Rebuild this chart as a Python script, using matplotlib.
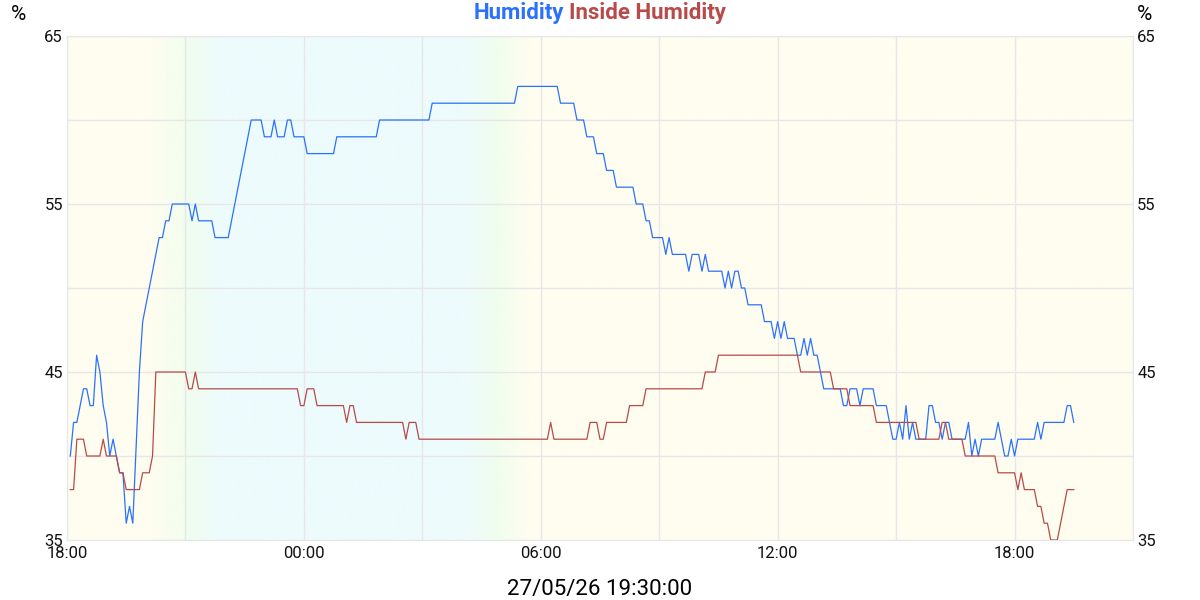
import matplotlib
matplotlib.use("Agg")
import matplotlib.pyplot as plt
import matplotlib.dates as mdates
import numpy as np
import pandas as pd

plt.rcParams["font.family"] = ["Roboto", "DejaVu Sans"]

# ── Data: vertices of each trace, minutes after 26/05/26 18:00 ────────────
START = pd.Timestamp("2026-05-26 18:00")
END = pd.Timestamp("2026-05-27 21:00")
STAMP = "27/05/26 19:30:00"

humidity_min = [5, 10, 15, 25, 30, 35, 40, 45, 50, 55, 60, 65, 70, 75, 80, 85, 90, 95, 100,
                110, 115, 140, 145, 150, 155, 160, 185, 190, 195, 200, 220, 225, 245, 280,
                295, 300, 310, 315, 320, 330, 335, 340, 345, 360, 365, 405, 410, 470, 475,
                550, 555, 680, 685, 745, 750, 770, 775, 785, 790, 800, 805, 815, 820, 830,
                835, 860, 865, 875, 880, 885, 890, 905, 910, 915, 920, 940, 945, 950, 960,
                965, 970, 975, 995, 1000, 1005, 1010, 1015, 1020, 1025, 1030, 1035, 1055,
                1060, 1070, 1075, 1080, 1085, 1090, 1095, 1105, 1110, 1115, 1120, 1125,
                1130, 1135, 1140, 1150, 1175, 1180, 1185, 1190, 1200, 1205, 1210, 1225,
                1230, 1245, 1255, 1260, 1265, 1270, 1275, 1280, 1285, 1290, 1305, 1310,
                1315, 1320, 1325, 1330, 1335, 1340, 1345, 1365, 1370, 1375, 1380, 1385,
                1390, 1410, 1415, 1420, 1425, 1430, 1435, 1440, 1445, 1470, 1475, 1480,
                1485, 1515, 1520, 1525, 1530]
humidity_val = [40, 42, 42, 44, 44, 43, 43, 46, 45, 43, 42, 40, 41, 40, 39, 39, 36, 37, 36,
                45, 48, 53, 53, 54, 54, 55, 55, 54, 55, 54, 54, 53, 53, 60,
                60, 59, 59, 60, 59, 59, 60, 60, 59, 59, 58, 58, 59, 59, 60,
                60, 61, 61, 62, 62, 61, 61, 60, 60, 59, 59, 58, 58, 57, 57,
                56, 56, 55, 55, 54, 54, 53, 53, 52, 53, 52, 52, 51, 52, 52,
                51, 52, 51, 51, 50, 51, 50, 51, 51, 50, 50, 49, 49,
                48, 48, 47, 48, 47, 48, 47, 47, 46, 46, 47, 46,
                47, 46, 46, 44, 44, 43, 43, 44, 44, 43, 44, 44,
                43, 43, 41, 41, 42, 41, 43, 41, 42, 41, 41, 43,
                43, 42, 42, 41, 42, 42, 41, 41, 42, 40, 41, 40,
                41, 41, 42, 41, 40, 40, 41, 40, 41, 41, 42, 41,
                42, 42, 43, 43, 42]

inside_min = [5, 10, 15, 25, 30, 50, 55, 60, 75, 80, 85, 90, 110, 115, 125, 130, 135, 180,
              185, 190, 195, 200, 350, 355, 360, 365, 375, 380, 420, 425, 430, 435, 440,
              510, 515, 520, 530, 535, 730, 735, 740, 790, 795, 805, 810, 815, 820, 850,
              855, 875, 880, 965, 970, 985, 990, 1110, 1115, 1160, 1165, 1185, 1190, 1225,
              1230, 1290, 1295, 1325, 1330, 1335, 1340, 1360, 1365, 1410, 1415, 1440,
              1445, 1450, 1455, 1470, 1475, 1480, 1485, 1490, 1495, 1505, 1520, 1530]
inside_val = [38, 38, 41, 41, 40, 40, 41, 40, 40, 39, 39, 38, 38, 39, 39, 40, 45, 45,
              44, 44, 45, 44, 44, 43, 43, 44, 44, 43, 43, 42, 43, 43, 42,
              42, 41, 42, 42, 41, 41, 42, 41, 41, 42, 42, 41, 41, 42, 42,
              43, 43, 44, 44, 45, 45, 46, 46, 45, 45, 44, 44, 43, 43,
              42, 42, 41, 41, 42, 42, 41, 41, 40, 40, 39, 39,
              38, 39, 38, 38, 37, 37, 36, 36, 35, 35, 38, 38]

y_labels = [35, 45, 55, 65]
y_grid = [40, 50, 60]

# ── Style ─────────────────────────────────────────────────────────────────
BLUE = "#2a72fb"
RED = "#b84a4a"
GRID = "#e7e7e7"
DAY = (255, 253, 240)
TWILIGHT = (241, 253, 238)
NIGHT = (237, 251, 253)

fig = plt.figure(figsize=(12, 6), dpi=100)
ax = fig.add_axes([67 / 1200, 60 / 600, 1066 / 1200, 504 / 600])

# day / night background shading
span = int((END - START).total_seconds() // 60)
cols = np.arange(span + 1)
stops = [0, 125, 185, 230, 600, 655, 705, span]
shade = [DAY, DAY, TWILIGHT, NIGHT, NIGHT, TWILIGHT, DAY, DAY]
rgb = np.stack([np.interp(cols, stops, [c[i] for c in shade]) for i in range(3)], axis=-1) / 255
ax.imshow(rgb[None, :, :],
          extent=[mdates.date2num(START), mdates.date2num(END), 35, 65],
          aspect="auto", zorder=0, interpolation="bilinear")
ax.xaxis_date()

t_hum = START + pd.to_timedelta(humidity_min, unit="min")
t_in = START + pd.to_timedelta(inside_min, unit="min")
ax.plot(t_hum, humidity_val, color=BLUE, lw=0.9, zorder=3)
ax.plot(t_in, inside_val, color=RED, lw=0.9, zorder=3)

ax.set_xlim(START, END)
ax.set_ylim(35, 65)

ax.xaxis.set_major_locator(mdates.HourLocator(byhour=[0, 6, 12, 18]))
ax.xaxis.set_minor_locator(mdates.HourLocator(byhour=[3, 9, 15, 21]))
ax.xaxis.set_major_formatter(mdates.DateFormatter("%H:%M"))
ax.set_yticks(y_labels)
ax.set_yticks(y_grid, minor=True)
ax.grid(which="both", color=GRID, lw=1.0, zorder=1)

ax.tick_params(which="both", length=0, labelsize=12, colors="#111111")
ax.tick_params(axis="y", labelright=True, pad=3)
ax.tick_params(axis="x", pad=4)
for s in ax.spines.values():
    s.set_color(GRID)

# ── Texts ─────────────────────────────────────────────────────────────────
fig.text(18 / 1200, 1 - 15 / 600, "%", ha="center", va="center", fontsize=15)
fig.text(1145 / 1200, 1 - 15 / 600, "%", ha="center", va="center", fontsize=15)
fig.text(0.5, 1 - 589 / 600, STAMP, ha="center", va="center", fontsize=16)

renderer = fig.canvas.get_renderer()
t1 = fig.text(0, 1 - 13 / 600, "Humidity", color=BLUE, fontsize=16,
              fontweight="bold", va="center")
t2 = fig.text(0, 1 - 13 / 600, "Inside Humidity", color=RED, fontsize=16,
              fontweight="bold", va="center")
w1 = t1.get_window_extent(renderer).width
w2 = t2.get_window_extent(renderer).width
gap = 5
x0 = 600 - (w1 + gap + w2) / 2
t1.set_x(x0 / 1200)
t2.set_x((x0 + w1 + gap) / 1200)

fig.savefig("out.png", dpi=100)
